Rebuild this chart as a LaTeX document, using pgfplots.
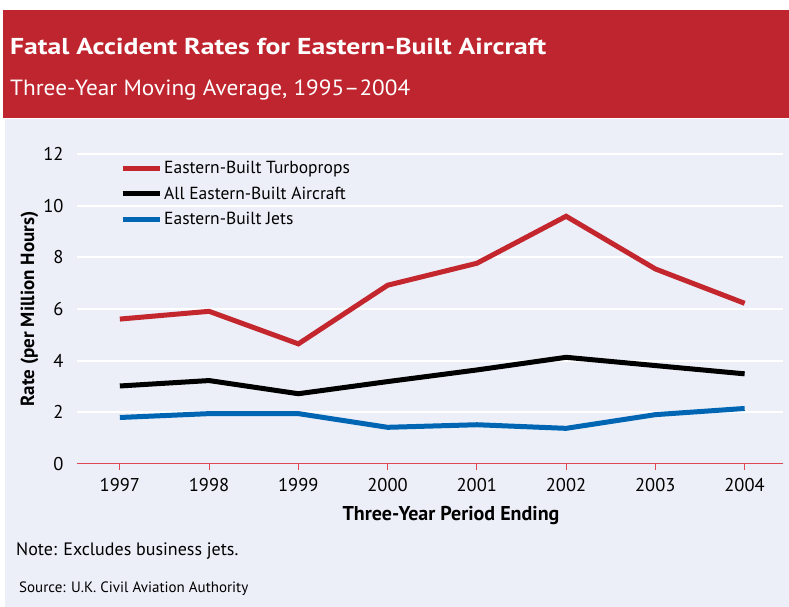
\documentclass[border=0pt]{standalone}
\usepackage{pgfplots}
\pgfplotsset{compat=1.18}
\usepackage{fontspec}
\setmainfont{PT Sans}
\definecolor{hdrred}{RGB}{191,37,46}
\definecolor{panel}{RGB}{236,239,248}
\definecolor{linered}{RGB}{196,38,46}
\definecolor{lineblue}{RGB}{0,102,179}
\definecolor{axred}{RGB}{222,72,84}

\begin{document}
\begin{tikzpicture}[x=1pt,y=1pt]
\fill[white] (0,0) rectangle (789,607);
\fill[hdrred] (3,489) rectangle (789,597);
\fill[panel] (5,0) rectangle (789,487.5);
\node[anchor=base west, inner sep=0, text=white] at (10,552.5)
  {\resizebox{536pt}{\height}{\bfseries\fontsize{23}{27}\selectfont Fatal Accident Rates for Eastern-Built Aircraft}};
\node[anchor=base west, inner sep=0, text=white] at (10,511)
  {\resizebox{400pt}{\height}{\fontsize{22}{26}\selectfont Three-Year Moving Average, 1995--2004}};

\begin{axis}[
    at={(77pt,143pt)}, anchor=south west,
    scale only axis, width=706pt, height=310pt,
    xmin=1996.52, xmax=2004.43,
    ymin=0, ymax=12,
    clip=false,
    axis x line*=bottom, axis y line*=left,
    x axis line style={draw=axred, line width=1pt, -},
    y axis line style={draw=none},
    xtick={1997,...,2004},
    ytick={2,4,...,12},
    extra y ticks={0},
    extra y tick style={grid=none},
    ymajorgrids,
    grid style={white, line width=2pt},
    xtick style={draw=axred, line width=1pt},
    ytick style={draw=none},
    tick align=outside,
    major tick length=6pt,
    /pgf/number format/assume math mode=true,
    xticklabel={\pgfmathprintnumber[1000 sep={}]{\tick}},
    ticklabel style={font=\fontsize{18.5}{22}\selectfont},
    xticklabel style={yshift=-5pt},
    yticklabel style={xshift=-4pt},
    legend style={at={(0.0609,0.983)}, anchor=north west, draw=none, fill=none,
      inner sep=0pt, row sep=7.5pt, font=\fontsize{17.5}{20}\selectfont},
    legend cell align=left,
    legend image code/.code={\draw[#1, line width=5pt] (-3pt,0pt) -- (34pt,0pt);},
]
\addplot[linered, line width=5pt] coordinates {
  (1997,5.61) (1998,5.91) (1999,4.65) (2000,6.92) (2001,7.77) (2002,9.59) (2003,7.55) (2004,6.22)};
\addlegendentry{Eastern-Built Turboprops}
\addplot[black, line width=5pt] coordinates {
  (1997,3.02) (1998,3.23) (1999,2.72) (2000,3.19) (2001,3.64) (2002,4.13) (2003,3.81) (2004,3.49)};
\addlegendentry{All Eastern-Built Aircraft}
\addplot[lineblue, line width=5pt] coordinates {
  (1997,1.80) (1998,1.95) (1999,1.95) (2000,1.42) (2001,1.52) (2002,1.38) (2003,1.91) (2004,2.15)};
\addlegendentry{Eastern-Built Jets}
\end{axis}

\node[anchor=base, inner sep=0] at (451,86)
  {\bfseries\fontsize{20}{24}\selectfont Three-Year Period Ending};
\node[rotate=90, inner sep=0] at (29.5,298)
  {\bfseries\fontsize{19}{22}\selectfont Rate (per Million Hours)};
\node[anchor=base west, inner sep=0] at (16,51)
  {\fontsize{18}{22}\selectfont Note: Excludes business jets.};
\node[anchor=base west, inner sep=0] at (19,14)
  {\fontsize{15}{18}\selectfont Source: U.K. Civil Aviation Authority};
\end{tikzpicture}
\end{document}
